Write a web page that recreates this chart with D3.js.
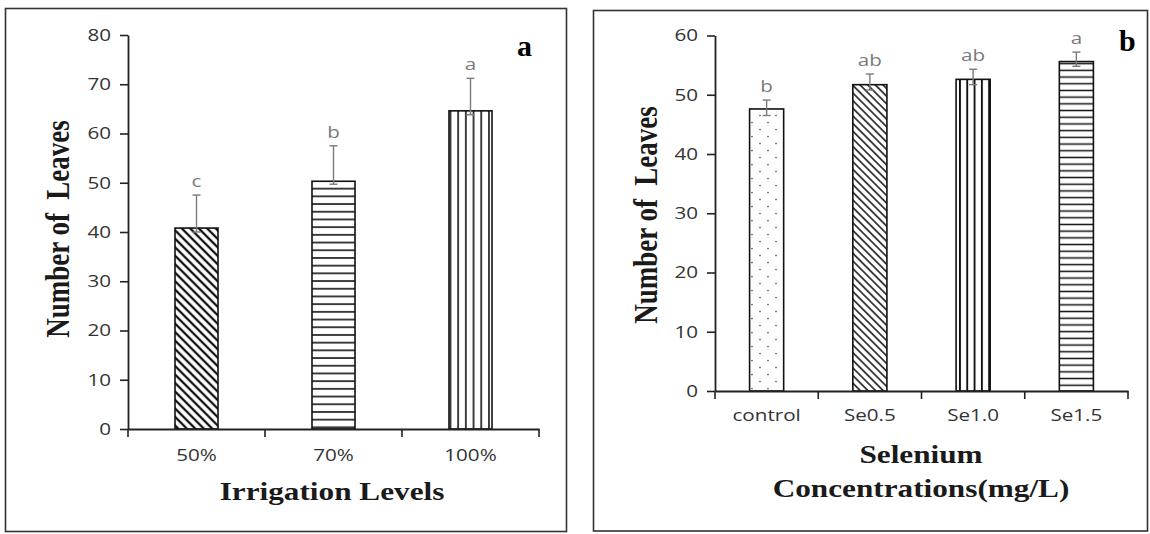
<!DOCTYPE html>
<html>
<head>
<meta charset="utf-8">
<script src="https://cdn.jsdelivr.net/npm/d3@7"></script>
<style>
  body { margin: 0; background: #fff; }
  svg { display: block; }
</style>
</head>
<body>
<svg id="chart" width="1150" height="534"></svg>
<script>
// ---------- DATA ----------
const irrigationLevels = ["50%", "70%", "100%"];
const irrigationLeaves = [40.8, 50.3, 64.6];
const irrigationErrPlus = [6.7, 7.2, 6.6];
const irrigationErrMinus = [0.8, 0.6, 0.8];
const irrigationLetters = ["c", "b", "a"];
const irrigationTicks = [0, 10, 20, 30, 40, 50, 60, 70, 80];

const seleniumLevels = ["control", "Se0.5", "Se1.0", "Se1.5"];
const seleniumLeaves = [47.6, 51.7, 52.6, 55.6];
const seleniumErrPlus = [1.5, 1.8, 1.7, 1.6];
const seleniumErrMinus = [1.1, 0.9, 0.9, 0.8];
const seleniumLetters = ["b", "ab", "ab", "a"];
const seleniumTicks = [0, 10, 20, 30, 40, 50, 60];

// ---------- SETUP ----------
const SX = 1.25; // horizontal stretch of the source picture
const svg = d3.select("#chart");
svg.append("rect").attr("width", 1150).attr("height", 534).attr("fill", "#fff");

const defs = svg.append("defs");
function linePattern(id, size, sw, rotate, horizontal, color) {
  const p = defs.append("pattern").attr("id", id)
    .attr("patternUnits", "userSpaceOnUse")
    .attr("width", size).attr("height", size);
  if (rotate) p.attr("patternTransform", `rotate(${rotate})`);
  p.append("rect").attr("width", size).attr("height", size).attr("fill", "#fff");
  if (horizontal) {
    p.append("line").attr("x1", 0).attr("x2", size).attr("y1", size / 2).attr("y2", size / 2)
      .attr("stroke", color || "#111").attr("stroke-width", sw);
  } else {
    p.append("line").attr("y1", 0).attr("y2", size).attr("x1", size / 2).attr("x2", size / 2)
      .attr("stroke", color || "#111").attr("stroke-width", sw);
  }
}
linePattern("diagA", 6, 2.3, -45, false);
linePattern("horizA", 7.7, 1.6, 0, true);
linePattern("vertA", 7.7, 1.6, 0, false);
linePattern("diagB", 5.4, 1.5, -45, false);
linePattern("vertB", 7.3, 1.9, 0, false);
linePattern("horizB", 6.7, 1.5, 0, true);
// dotted pattern
{
  const p = defs.append("pattern").attr("id", "dotsB")
    .attr("patternUnits", "userSpaceOnUse").attr("width", 16).attr("height", 14)
    .attr("x", 0).attr("y", 0);
  p.append("rect").attr("width", 16).attr("height", 14).attr("fill", "#fff");
  [[8, 3.5], [0, 10.5], [16, 10.5]].forEach(([cx, cy]) =>
    p.append("circle").attr("cx", cx).attr("cy", cy).attr("r", 0.85).attr("fill", "#555"));
}

function stretchText(g, x, y, str, o) {
  const gg = g.append("g").attr("transform",
    `translate(${x},${y}) scale(${o.sx || SX},1)` + (o.rotate ? " rotate(-90)" : ""));
  return gg.append("text")
    .attr("text-anchor", o.anchor || "middle")
    .attr("font-family", o.family || "'Open Sans', sans-serif")
    .attr("font-size", o.size || 16)
    .attr("font-weight", o.weight || "normal")
    .attr("fill", o.fill || "#333")
    .style("white-space", "pre")
    .text(str);
}

function panel(cfg) {
  const g = svg.append("g");
  // frame
  g.append("rect").attr("x", cfg.frame[0]).attr("y", cfg.frame[1])
    .attr("width", cfg.frame[2] - cfg.frame[0]).attr("height", cfg.frame[3] - cfg.frame[1])
    .attr("fill", "none").attr("stroke", "#333").attr("stroke-width", 1.6);

  const x = d3.scaleBand().domain(cfg.cats).range([cfg.x0, cfg.x1]).padding(0);
  const y = d3.scaleLinear().domain([0, cfg.ymax]).range([cfg.y0, cfg.y1]);
  const bw = x.bandwidth() * cfg.barFrac;

  // bars
  g.selectAll("rect.bar").data(cfg.vals).join("rect")
    .attr("class", "bar")
    .attr("x", (d, i) => x(cfg.cats[i]) + x.bandwidth() / 2 - bw / 2)
    .attr("y", d => y(d))
    .attr("width", bw)
    .attr("height", d => y(0) - y(d))
    .attr("fill", (d, i) => `url(#${cfg.patterns[i]})`)
    .attr("stroke", "#111").attr("stroke-width", 1.6);

  // error bars
  cfg.vals.forEach((v, i) => {
    const cx = x(cfg.cats[i]) + x.bandwidth() / 2;
    const top = y(v + cfg.errP[i]), bot = y(v - cfg.errM[i]);
    const eg = g.append("g").attr("stroke", "#7a7a7a").attr("stroke-width", 1.4);
    eg.append("line").attr("x1", cx).attr("x2", cx).attr("y1", top).attr("y2", bot);
    eg.append("line").attr("x1", cx - 4).attr("x2", cx + 4).attr("y1", top).attr("y2", top);
    eg.append("line").attr("x1", cx - 4).attr("x2", cx + 4).attr("y1", bot).attr("y2", bot);
    stretchText(g, cx, top - 8, cfg.letters[i], { size: 16.5, fill: "#7a7a7a" });
  });

  // y axis
  const ya = g.append("g").attr("transform", `translate(${cfg.x0},0)`)
    .call(d3.axisLeft(y).tickValues(cfg.ticks).tickSize(8).tickPadding(9).tickSizeOuter(0));
  ya.select(".domain").attr("stroke", "#222").attr("stroke-width", 1.8);
  ya.selectAll(".tick line").attr("stroke", "#222").attr("stroke-width", 1.6);
  ya.selectAll(".tick text")
    .attr("font-family", "'Open Sans', sans-serif").attr("font-size", 16.5).attr("fill", "#333")
    .each(function () {
      const tx = +this.getAttribute("x");
      this.setAttribute("x", 0);
      this.setAttribute("transform", `translate(${tx},0) scale(${SX},1)`);
    });

  // x axis (labels)
  const xa = g.append("g").attr("transform", `translate(0,${cfg.y0})`)
    .call(d3.axisBottom(x).tickSize(0).tickPadding(0));
  xa.select(".domain").attr("stroke", "#222").attr("stroke-width", 1.8);
  xa.selectAll(".tick text").attr("dy", null)
    .attr("font-family", "'Open Sans', sans-serif").attr("font-size", 16.5).attr("fill", "#333")
    .attr("y", 0)
    .each(function () {
      this.setAttribute("transform", `translate(0,${cfg.xLabelBase - cfg.y0}) scale(${SX},1)`);
    });
  // boundary ticks
  const bounds = cfg.cats.map(c => x(c)).concat([cfg.x1]);
  g.selectAll("line.bt").data(bounds).join("line")
    .attr("x1", d => d).attr("x2", d => d)
    .attr("y1", cfg.y0).attr("y2", cfg.y0 + 8)
    .attr("stroke", "#222").attr("stroke-width", 1.6);

  // y title
  stretchText(g, cfg.yTitle[0], cfg.yTitle[1], "Number of  Leaves",
    { rotate: true, family: "'Liberation Serif', 'Times New Roman', serif", weight: "bold",
      size: 27, fill: "#1a1a1a", sx: 1.22 });
  // x title lines
  cfg.xTitle.forEach(([tx, ty, str]) =>
    stretchText(g, tx, ty, str, { family: "'Liberation Serif', 'Times New Roman', serif",
      weight: "bold", size: 25, fill: "#1a1a1a" }));
  // panel letter
  stretchText(g, cfg.letter[0], cfg.letter[1], cfg.letter[2],
    { family: "'Liberation Serif', 'Times New Roman', serif", weight: "bold", size: 30,
      fill: "#000", sx: 1, anchor: "start" });
}

panel({
  frame: [5.5, 8.5, 566.5, 531.5],
  cats: irrigationLevels, vals: irrigationLeaves,
  errP: irrigationErrPlus, errM: irrigationErrMinus, letters: irrigationLetters,
  ticks: irrigationTicks, ymax: 80,
  x0: 128, x1: 539, y0: 429, y1: 35, barFrac: 0.314,
  patterns: ["diagA", "horizA", "vertA"],
  xLabelBase: 461,
  yTitle: [69, 229],
  xTitle: [[332, 500, "Irrigation Levels"]],
  letter: [517, 56, "a"]
});

panel({
  frame: [593.5, 10.5, 1147.5, 531],
  cats: seleniumLevels, vals: seleniumLeaves,
  errP: seleniumErrPlus, errM: seleniumErrMinus, letters: seleniumLetters,
  ticks: seleniumTicks, ymax: 60,
  x0: 715, x1: 1128, y0: 391, y1: 35.5, barFrac: 0.33,
  patterns: ["dotsB", "diagB", "vertB", "horizB"],
  xLabelBase: 421,
  yTitle: [657, 215],
  xTitle: [[921, 463, "Selenium"], [921, 497, "Concentrations(mg/L)"]],
  letter: [1119, 51, "b"]
});
</script>
</body>
</html>
